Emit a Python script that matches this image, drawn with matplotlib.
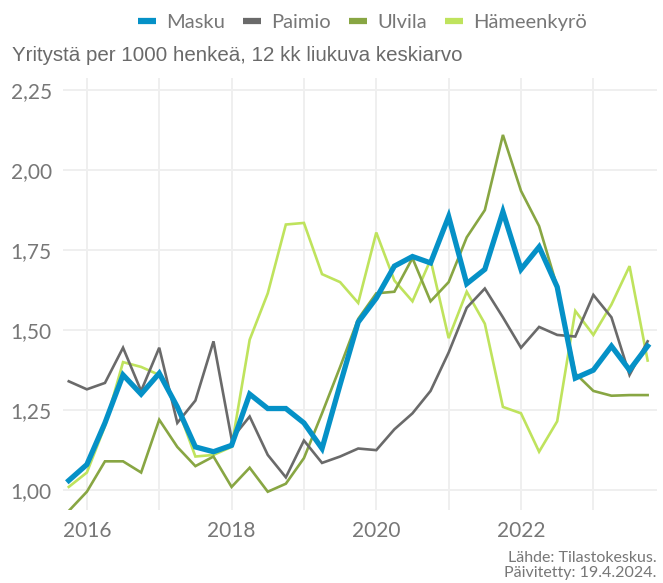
import matplotlib.pyplot as plt
import numpy as np

# quarterly points, 2015 Q4 ... 2023 Q4
years = np.arange(2015.75, 2023.76, 0.25)

masku = [1.03, 1.08, 1.21, 1.36, 1.30, 1.365, 1.26, 1.135, 1.12, 1.14, 1.30,
         1.255, 1.255, 1.21, 1.13, 1.33, 1.525, 1.60, 1.70, 1.73, 1.71, 1.855,
         1.645, 1.69, 1.87, 1.69, 1.76, 1.635, 1.35, 1.375, 1.45, 1.375, 1.45]
paimio = [1.34, 1.315, 1.335, 1.445, 1.31, 1.445, 1.21, 1.28, 1.465, 1.16, 1.23,
          1.11, 1.04, 1.155, 1.085, 1.105, 1.13, 1.125, 1.19, 1.24, 1.31, 1.43,
          1.57, 1.63, 1.54, 1.445, 1.51, 1.485, 1.48, 1.61, 1.54, 1.36, 1.465]
ulvila = [0.935, 0.995, 1.09, 1.09, 1.055, 1.22, 1.135, 1.075, 1.105, 1.01, 1.07,
          0.995, 1.02, 1.10, 1.24, 1.385, 1.535, 1.615, 1.62, 1.725, 1.59, 1.65,
          1.79, 1.875, 2.11, 1.935, 1.825, 1.635, 1.365, 1.31, 1.295, 1.297, 1.297]
hameenkyro = [1.01, 1.055, 1.20, 1.40, 1.385, 1.36, 1.26, 1.105, 1.11, 1.135, 1.47,
              1.615, 1.83, 1.835, 1.675, 1.65, 1.585, 1.805, 1.655, 1.59, 1.72, 1.475,
              1.62, 1.52, 1.26, 1.24, 1.12, 1.215, 1.56, 1.485, 1.58, 1.70, 1.405]

names = ["Masku", "Paimio", "Ulvila", "Hämeenkyrö"]
colors = ["#0591c7", "#6a6a6a", "#88a643", "#bfe35d"]
widths = [3.8, 1.9, 1.9, 1.9]
series = [masku, paimio, ulvila, hameenkyro]

yticks = [1.00, 1.25, 1.50, 1.75, 2.00, 2.25]
xticks = [2016, 2018, 2020, 2022]

plt.rcParams['font.family'] = ['Lato', 'DejaVu Sans']
grey = "#777777"

fig = plt.figure(figsize=(6.63, 5.83), dpi=100)
ax = fig.add_axes([0.095, 0.125, 0.896, 0.741])

# draw order: thin lines first, Masku on top
order = [3, 2, 1, 0]
for i in order:
    ax.plot(years, series[i], color=colors[i], lw=widths[i],
            solid_joinstyle='miter', zorder=3 + (i == 0))

ax.set_xlim(2015.67, 2023.88)
ax.set_ylim(0.9375, 2.2875)
ax.set_yticks(yticks)
ax.set_yticklabels([f"{v:.2f}".replace(".", ",") for v in yticks])
ax.set_xticks(np.arange(2016, 2024))
ax.set_xticklabels([str(y) if y in xticks else "" for y in range(2016, 2024)])
ax.tick_params(length=0, labelsize=15, labelcolor=grey, pad=8)
ax.grid(True, color="#efefef", lw=1.4)
ax.set_axisbelow(True)
for s in ax.spines.values():
    s.set_visible(False)

handles = [plt.Line2D([], [], color=c, lw=4.5, solid_capstyle='butt') for c in colors]
fig.legend(handles, names, loc='center', bbox_to_anchor=(0.547, 0.962), ncol=4,
           frameon=False, fontsize=14.5, handlelength=0.9, handletextpad=0.5,
           columnspacing=0.9, labelcolor=grey)

fig.text(0.018, 0.905, "Yritystä per 1000 henkeä, 12 kk liukuva keskiarvo",
         fontsize=14.8, color="#6a6a6a", family=['Liberation Sans', 'DejaVu Sans'],
         va='center')
fig.text(0.99, 0.006, "Lähde: Tilastokeskus.\nPäivitetty: 19.4.2024.",
         ha='right', va='bottom', fontsize=11.5, color=grey, linespacing=1.05)

fig.savefig("out.png", dpi=100)
